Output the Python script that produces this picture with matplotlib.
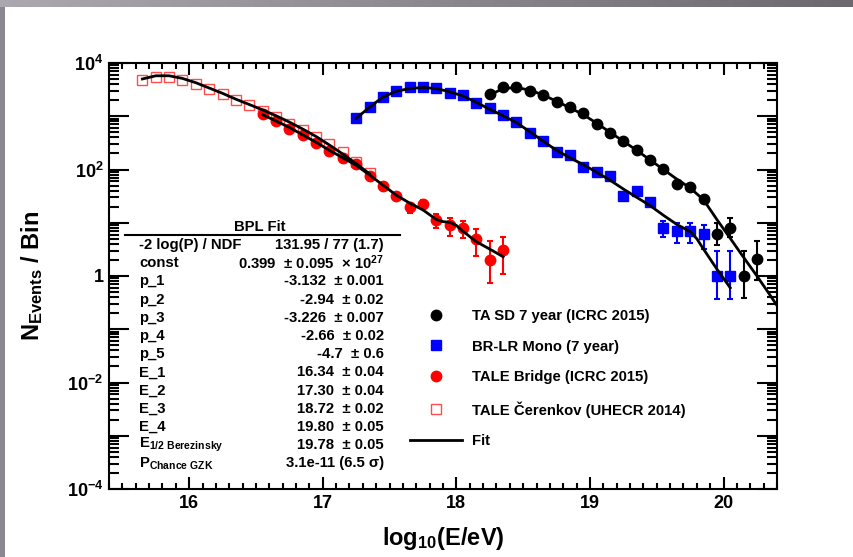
import numpy as np
import matplotlib
matplotlib.use('Agg')
import matplotlib.pyplot as plt
from matplotlib.lines import Line2D
from matplotlib.ticker import MultipleLocator, LogLocator, FuncFormatter, NullFormatter

plt.rcParams['font.family'] = ['Liberation Sans', 'DejaVu Sans']
plt.rcParams['font.weight'] = 'bold'
plt.rcParams['mathtext.fontset'] = 'custom'
plt.rcParams['mathtext.rm'] = 'Liberation Sans:bold'
plt.rcParams['mathtext.it'] = 'Liberation Sans:bold'
plt.rcParams['mathtext.bf'] = 'Liberation Sans:bold'
plt.rcParams['mathtext.sf'] = 'Liberation Sans:bold'
plt.rcParams['mathtext.default'] = 'rm'

# TA SD 7 year (black circles)
x_tasd = [18.25, 18.35, 18.45, 18.55, 18.65, 18.75, 18.85, 18.95, 19.05, 19.15, 19.25,
          19.35, 19.45, 19.55, 19.65, 19.75, 19.85, 19.95, 20.05, 20.15, 20.25]
n_tasd = [2570, 3467, 3467, 2951, 2512, 1820, 1479, 1148, 724, 479, 347,
          234, 148, 102, 54, 47, 27.5, 6.2, 8.1, 1.0, 2.1]
lo_tasd = [0] * 17 + [2.3, 2.6, 0.61, 1.25]
hi_tasd = [0] * 17 + [3.8, 4.2, 1.9, 2.4]

# BR-LR Mono (blue squares)
x_brlr = [17.25, 17.35, 17.45, 17.55, 17.65, 17.75, 17.85, 17.95, 18.05, 18.15,
          18.25, 18.35, 18.45, 18.55, 18.65, 18.75, 18.85, 18.95, 19.05, 19.15,
          19.25, 19.35, 19.45, 19.55, 19.65, 19.75, 19.85, 19.95, 20.05]
n_brlr = [912, 1514, 2344, 3020, 3467, 3467, 3388, 2754, 2512, 1738,
          1413, 1047, 794, 490, 347, 209, 186, 112, 89, 74,
          32, 39, 25, 8.1, 7.1, 7.1, 6.2, 1.0, 1.0]
lo_brlr = [0] * 23 + [2.8, 3.0, 3.0, 3.0, 0.63, 0.63]
hi_brlr = [0] * 23 + [2.8, 3.0, 3.0, 3.0, 1.9, 1.9]

# TALE Bridge (red circles)
x_brdg = [16.55, 16.65, 16.75, 16.85, 16.95, 17.05, 17.15, 17.25, 17.35, 17.45,
          17.55, 17.65, 17.75, 17.85, 17.95, 18.05, 18.15, 18.25, 18.35]
n_brdg = [1096, 832, 575, 447, 309, 219, 162, 126, 76, 48,
          32, 19.5, 22.4, 11.2, 9.1, 7.9, 5.0, 2.0, 3.1]
lo_brdg = [0] * 11 + [4.0, 4.5, 3.2, 3.4, 2.8, 2.6, 1.26, 2.0]
hi_brdg = [0] * 11 + [4.0, 4.5, 3.2, 3.4, 2.8, 2.6, 2.5, 2.4]

# TALE Cerenkov (open squares)
x_cer = [15.65, 15.75, 15.85, 15.95, 16.05, 16.15, 16.25, 16.35, 16.45, 16.55,
         16.65, 16.75, 16.85, 16.95, 17.05, 17.15, 17.25, 17.35]
n_cer = [4786, 5495, 5495, 4786, 4074, 3311, 2570, 2042, 1622, 1259,
         977, 724, 550, 407, 295, 209, 138, 85]

# fit curves
xf_cer = [15.65, 15.75, 15.85, 15.95, 16.05, 16.15, 16.25, 16.35, 16.45, 16.55,
          16.65, 16.75, 16.85, 16.95, 17.05, 17.15, 17.25, 17.35]
nf_cer = [5012, 5754, 5754, 5129, 4266, 3388, 2692, 2089, 1660, 1318,
          1023, 776, 575, 417, 288, 195, 129, 83]
xf_brdg = [16.55, 16.65, 16.75, 16.85, 16.95, 17.05, 17.15, 17.25, 17.35, 17.45,
           17.55, 17.65, 17.75, 17.85, 17.9, 17.95, 18.0, 18.05, 18.15, 18.25, 18.35]
nf_brdg = [1072, 813, 617, 447, 324, 229, 166, 120, 79, 51,
           33, 23.4, 17.4, 11.5, 10.5, 10.2, 8.9, 6.9, 4.4, 3.2, 2.3]
xf_brlr = [17.25, 17.35, 17.45, 17.55, 17.65, 17.75, 17.85, 17.95, 18.05, 18.15,
           18.25, 18.35, 18.45, 18.55, 18.65, 18.75, 18.85, 18.95, 19.05, 19.15,
           19.25, 19.35, 19.45, 19.55, 19.65, 19.75, 19.8, 19.85, 19.95, 20.05]
nf_brlr = [912, 1479, 2291, 2951, 3311, 3467, 3311, 2884, 2399, 1820,
           1349, 1023, 759, 513, 339, 229, 166, 123, 89, 63,
           43, 30, 21, 13.8, 9.3, 6.8, 5.0, 3.2, 1.35, 0.60]
xf_tasd = [18.25, 18.35, 18.45, 18.55, 18.65, 18.75, 18.85, 18.95, 19.05, 19.15,
           19.25, 19.35, 19.45, 19.55, 19.65, 19.75, 19.85, 19.95, 20.05, 20.15,
           20.25, 20.35, 20.45]
nf_tasd = [2512, 3311, 3467, 3090, 2512, 1905, 1445, 1072, 741, 501,
           339, 229, 151, 100, 66, 45, 27, 11.5, 5.1, 2.24,
           1.0, 0.43, 0.18]

legend_labels = ['TA SD 7 year (ICRC 2015)', 'BR-LR Mono (7 year)',
                 'TALE Bridge (ICRC 2015)', 'TALE Čerenkov (UHECR 2014)', 'Fit']

stat_names = ['-2 log(P) / NDF', 'const', 'p_1', 'p_2', 'p_3', 'p_4', 'p_5',
              'E_1', 'E_2', 'E_3', 'E_4', r'E$_{1/2\ Berezinsky}$', r'P$_{Chance\ GZK}$']
stat_vals = ['131.95 / 77 (1.7)', r'0.399  ± 0.095  × 10$^{27}$', '-3.132  ± 0.001',
             '-2.94  ± 0.02', '-3.226  ± 0.007', '-2.66  ± 0.02', '-4.7  ± 0.6',
             '16.34  ± 0.04', '17.30  ± 0.04', '18.72  ± 0.02', '19.80  ± 0.05',
             '19.78  ± 0.05', '3.1e-11 (6.5 σ)']

W, H = 854, 557
fig = plt.figure(figsize=(W / 100, H / 100), dpi=100)

# grey frame of the slide
top = fig.add_axes([0, 1 - 7 / H, 1, 7 / H])
top.imshow(np.linspace(0, 1, 256)[None, :], aspect='auto',
           cmap=matplotlib.colors.LinearSegmentedColormap.from_list('g', ['#aca8b0', '#6c6870']))
top.axis('off')
side = fig.add_axes([0, 0, 5 / W, 1 - 7 / H])
side.set_facecolor('#8c8892')
side.set_xticks([])
side.set_yticks([])
for s in side.spines.values():
    s.set_visible(False)

ax = fig.add_axes([109 / W, 68 / H, 668 / W, 426 / H])

ax.plot(x_cer, n_cer, 's', mfc='none', mec='#ff4d4d', ms=7.2, mew=1.0, zorder=2)
ax.errorbar(x_brdg, n_brdg, yerr=[lo_brdg, hi_brdg], fmt='o', color='red', ms=7.5,
            elinewidth=1.5, capsize=2, capthick=1.5, zorder=3)
ax.errorbar(x_brlr, n_brlr, yerr=[lo_brlr, hi_brlr], fmt='s', color='blue', ms=7,
            elinewidth=1.5, capsize=2, capthick=1.5, zorder=3)
ax.errorbar(x_tasd, n_tasd, yerr=[lo_tasd, hi_tasd], fmt='o', color='black', ms=7.5,
            elinewidth=1.5, capsize=2, capthick=1.5, zorder=3)

for xf, nf in [(xf_cer, nf_cer), (xf_brdg, nf_brdg), (xf_brlr, nf_brlr), (xf_tasd, nf_tasd)]:
    ax.plot(xf, nf, color='black', lw=2, zorder=4)

ax.set_yscale('log')
ax.set_xlim(15.4, 20.4)
ax.set_ylim(1e-4, 1e4)

ax.xaxis.set_major_locator(MultipleLocator(1))
ax.xaxis.set_minor_locator(MultipleLocator(0.1))
ax.xaxis.set_major_formatter(FuncFormatter(lambda v, p: '%d' % round(v)))
ax.yaxis.set_major_locator(LogLocator(base=10, numticks=20))
ax.yaxis.set_minor_locator(LogLocator(base=10, subs=np.arange(2, 10), numticks=20))
ax.yaxis.set_minor_formatter(NullFormatter())


def ylab(v, pos):
    e = int(round(np.log10(v)))
    if e % 2:
        return ''
    if e == 0:
        return '1'
    return r'$10^{%d}$' % e


ax.yaxis.set_major_formatter(FuncFormatter(ylab))

ax.tick_params(which='both', direction='in', top=True, right=True, width=1.5,
               labelsize=13)
ax.tick_params(axis='x', which='major', length=8.6, pad=4)
ax.tick_params(axis='x', which='minor', length=4.3)
ax.tick_params(axis='y', which='major', length=14.4, pad=4)
ax.tick_params(axis='y', which='minor', length=7.2)
for s in ax.spines.values():
    s.set_linewidth(1.5)

ax.set_xlabel(r'log$_{10}$(E/eV)', fontsize=17, fontweight='bold', labelpad=10)
ax.set_ylabel(r'N$_{Events}$ / Bin', fontsize=17, fontweight='bold', labelpad=16)

handles = [Line2D([], [], ls='none', marker='o', color='black', ms=7.5),
           Line2D([], [], ls='none', marker='s', color='blue', ms=7),
           Line2D([], [], ls='none', marker='o', color='red', ms=7.5),
           Line2D([], [], ls='none', marker='s', mfc='none', mec='#ff4d4d', ms=7.2, mew=1.0),
           Line2D([], [], color='black', lw=2)]
ax.legend(handles, legend_labels, loc='upper left', bbox_to_anchor=(0.4506, 0.423),
          frameon=False, prop={'weight': 'bold', 'size': 10.7}, handlelength=3.5,
          handletextpad=0.67, labelspacing=1.13, borderpad=0, borderaxespad=0)

# fit statistics box
fig.text(260 / W, 1 - 227 / H, 'BPL Fit', ha='center', va='center', fontsize=10.7,
         fontweight='bold')
fig.add_artist(Line2D([125 / W, 400 / W], [1 - 235 / H, 1 - 235 / H], color='black', lw=1.5))
for i, (name, val) in enumerate(zip(stat_names, stat_vals)):
    yy = 1 - (245 + i * 18.2) / H
    fig.text(139 / W, yy, name, ha='left', va='center', fontsize=10.7, fontweight='bold')
    fig.text(384 / W, yy, val, ha='right', va='center', fontsize=10.7, fontweight='bold')

fig.savefig('out.png', dpi=100)
